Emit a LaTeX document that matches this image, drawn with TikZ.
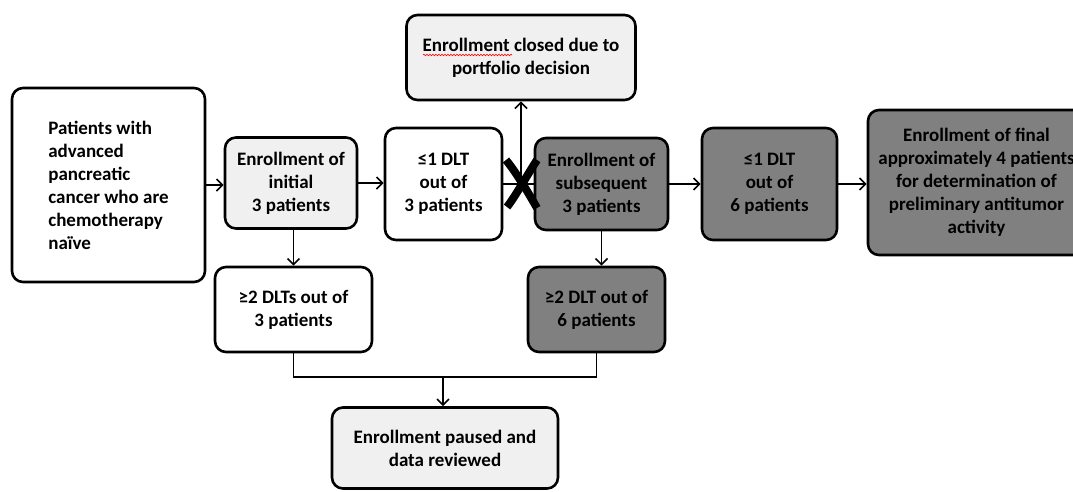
\documentclass[tikz,border=0pt]{standalone}
\usepackage{fontspec}
\setmainfont{Carlito}
\usetikzlibrary{arrows.meta, decorations.pathmorphing}

\begin{document}
\begin{tikzpicture}[> = {Straight Barb[length=6pt, width=12pt]}, % arrow head style
                x = 1pt, y = -1pt, % one unit per pixel, y downwards
                line width = 1.7pt % line style
            ]

            \tikzstyle{every node}=[draw = black, rounded corners = 11pt, line width = 2.6pt,
            align = center, inner sep = 0pt, font = \bfseries\fontsize{19}{23}\selectfont]
            \tikzstyle{pale}=[fill = black!6]
            \tikzstyle{dark}=[fill = black!50]

            \useasboundingbox (0,0) rectangle (1073,491);

            \node (1) at (108.5,185) [minimum width = 193pt, minimum height = 194pt, align = left]
            {Patients with\\advanced\\pancreatic\\cancer who are\\chemotherapy\\naïve};
            \node (2) at (291,183) [pale, minimum width = 132pt, minimum height = 91pt]
            {Enrollment of\\initial\\3 patients};
            \node (3) at (443.5,184) [minimum width = 117pt, minimum height = 112pt]
            {≤1 DLT\\out of\\3 patients};
            \node (4) at (521,57.5) [pale, minimum width = 229pt, minimum height = 85pt]
            {Enrollment closed due to\\portfolio decision};
            \node (5) at (601.5,184) [dark, minimum width = 133pt, minimum height = 92pt]
            {Enrollment of\\subsequent\\3 patients};
            \node (6) at (769.5,184) [dark, minimum width = 135pt, minimum height = 112pt]
            {≤1 DLT\\out of\\6 patients};
            \node (7) at (976.5,182.5) [dark, minimum width = 217pt, minimum height = 145pt]
            {Enrollment of final\\approximately 4 patients\\for determination of\\preliminary antitumor\\activity};
            \node (8) at (293.5,309.5) [minimum width = 157pt, minimum height = 85pt]
            {≥2 DLTs out of\\3 patients};
            \node (9) at (596.5,309.5) [dark, minimum width = 137pt, minimum height = 85pt]
            {≥2 DLT out of\\6 patients};
            \node (10) at (445,448) [pale, minimum width = 226pt, minimum height = 81pt]
            {Enrollment paused and\\data reviewed};

            \coordinate (x) at (521,184); \coordinate (m) at (443,377);

            \path[->] (1) edge (1 -| 2.west); \path[->] (2) edge (2 -| 3.west);
            \path (3) edge (5); \path[->] (x) edge (4);
            \path[->] (5) edge (6); \path[->] (6) edge (6 -| 7.west);
            \path[->] (2.south -| 8.north) edge (8.north);
            \path[->] (5.south) edge (5.south |- 9.north);
            \draw (8.south) |- (m) -| (9.south); \path[->] (m) edge (m |- 10.north);

            % cut mark on the way to the subsequent cohort
            \draw[line width = 8pt] (x) ++(-15,-24) .. controls ++(10,12) and ++(-8,-14) .. ++(31,48);
            \draw[line width = 8pt] (x) ++(-14,23) .. controls ++(8,-10) and ++(-8,12) .. ++(30,-47);

            % spell-check squiggle
            \draw[red, line width = 0.6pt, decorate, decoration = {snake, amplitude = 0.8pt, segment length = 3pt}]
            ([shift = {(-98,-2.5)}]4.center) -- ++(89,0);
\end{tikzpicture}
\end{document}
